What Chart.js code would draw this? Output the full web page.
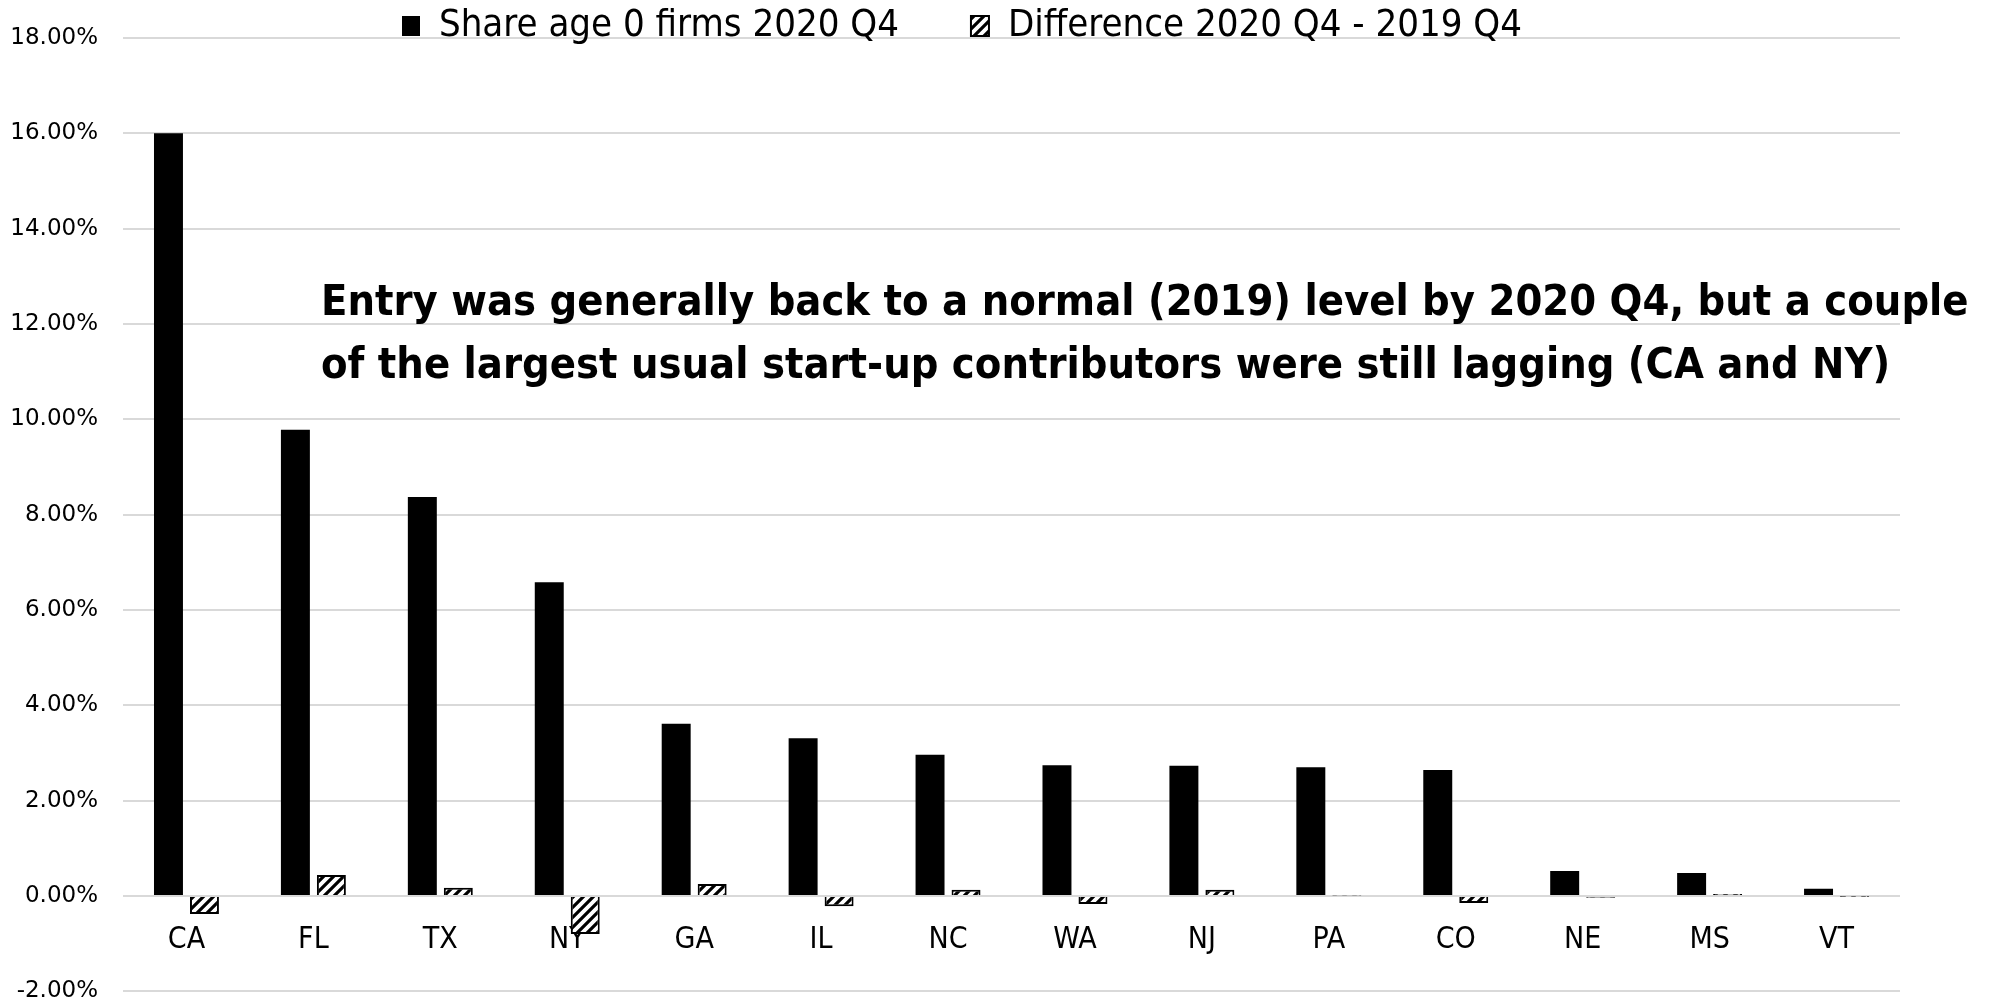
<!DOCTYPE html>
<html>
<head>
<meta charset="utf-8">
<script src="https://cdn.jsdelivr.net/npm/chart.js@4.4.1/dist/chart.umd.min.js"></script>
<style>
  html, body { margin: 0; padding: 0; background: #fff; }
  #chart { display: block; }
</style>
</head>
<body>
<canvas id="chart" width="1996" height="1005"></canvas>
<script>
// values are in percent
const states = ['CA', 'FL', 'TX', 'NY', 'GA', 'IL', 'NC', 'WA', 'NJ', 'PA', 'CO', 'NE', 'MS', 'VT'];
const shareAge0 = [16.0, 9.78, 8.37, 6.58, 3.61, 3.31, 2.96, 2.74, 2.73, 2.70, 2.64, 0.52, 0.48, 0.15];
const diff2019 = [-0.38, 0.44, 0.17, -0.80, 0.25, -0.22, 0.13, -0.17, 0.13, 0.01, -0.15, -0.04, 0.04, -0.01];
const yTicks = [-2, 0, 2, 4, 6, 8, 10, 12, 14, 16, 18];
const seriesNames = ['Share age 0 firms 2020 Q4', 'Difference 2020 Q4 - 2019 Q4'];
const noteLines = [
    'Entry was generally back to a normal (2019) level by 2020 Q4, but a couple',
    'of the largest usual start-up contributors were still lagging (CA and NY)'
];

const narrow = '"Liberation Sans Narrow", "DejaVu Sans Condensed", sans-serif';

const ctx = document.getElementById('chart').getContext('2d');

// white bar with black "/" stripes
function makeHatch() {
    const c = document.createElement('canvas');
    c.width = 10; c.height = 10;
    const g = c.getContext('2d');
    g.fillStyle = '#fff';
    g.fillRect(0, 0, 10, 10);
    g.strokeStyle = '#000';
    g.lineWidth = 3.2;
    g.beginPath();
    g.moveTo(-5, 5); g.lineTo(5, -5);
    g.moveTo(0, 10); g.lineTo(10, 0);
    g.moveTo(5, 15); g.lineTo(15, 5);
    g.stroke();
    return ctx.createPattern(c, 'repeat');
}

// legend sits on top of the 18% gridline like in the excel chart
const legendLift = {
    id: 'legendLift',
    afterLayout(chart) {
        const lg = chart.legend;
        const pad = lg.options.labels.padding;
        lg.top = 7 - pad;
        lg.bottom = 80;
        lg.left += 7;
        lg.right += 7;
    }
};

const noteText = {
    id: 'noteText',
    afterDatasetsDraw(chart) {
        const { ctx, chartArea } = chart;
        ctx.save();
        ctx.font = 'bold 43px ' + narrow;
        ctx.fillStyle = '#000';
        ctx.textBaseline = 'middle';
        ctx.textAlign = 'left';
        ctx.fillText(noteLines[0], chartArea.left + 198, chartArea.top + 266);
        ctx.fillText(noteLines[1], chartArea.left + 198, chartArea.top + 329);
        ctx.restore();
    }
};

new Chart(ctx, {
    type: 'bar',
    data: {
        labels: states,
        datasets: [
            {
                label: seriesNames[0],
                data: shareAge0,
                backgroundColor: '#000',
                borderWidth: 0,
            },
            {
                label: seriesNames[1],
                data: diff2019,
                backgroundColor: makeHatch(),
                borderColor: '#000',
                borderWidth: 2,
            },
        ],
    },
    options: {
        responsive: false,
        animation: false,
        categoryPercentage: 0.567,
        barPercentage: 0.805,
        layout: { padding: { left: 10, right: 96, top: 0, bottom: 0 } },
        plugins: {
            legend: {
                position: 'top',
                maxHeight: 38,
                labels: {
                    font: { family: narrow, size: 38 },
                    color: '#000',
                    boxWidth: 18,
                    boxHeight: 20,
                    padding: 72,
                },
            },
            tooltip: { enabled: false },
        },
        scales: {
            x: {
                position: { y: 0 },
                grid: { display: false, drawTicks: false, tickLength: 0 },
                border: { display: false },
                ticks: {
                    font: { family: narrow, size: 30 },
                    color: '#000',
                    padding: 26,
                    maxRotation: 0,
                },
            },
            y: {
                min: -2,
                max: 18,
                afterBuildTicks: function (s) {
                    s.ticks = yTicks.map(v => ({ value: v }));
                },
                afterFit: function (s) {
                    s.width = 113;
                },
                // invisible tick marks give the gap between labels and plot
                grid: {
                    color: '#d9d9d9',
                    lineWidth: 2,
                    drawTicks: true,
                    tickLength: 25,
                    tickColor: 'rgba(0,0,0,0)',
                },
                border: { display: false },
                ticks: {
                    font: { family: '"DejaVu Sans", sans-serif', size: 23 },
                    color: '#000',
                    padding: 0,
                    callback: v => v.toFixed(2) + '%',
                },
            },
        },
    },
    plugins: [legendLift, noteText],
});
</script>
</body>
</html>
